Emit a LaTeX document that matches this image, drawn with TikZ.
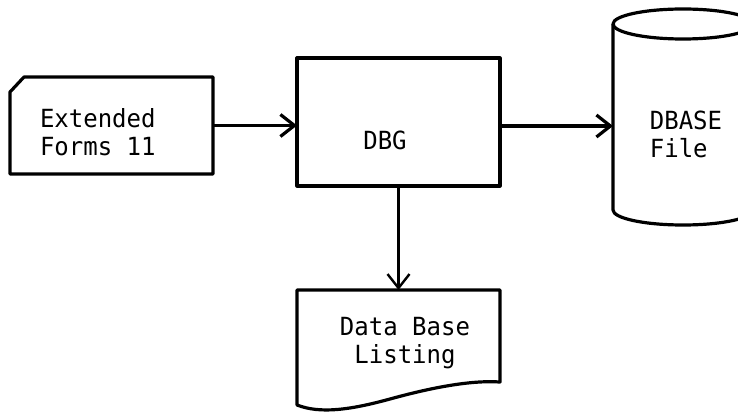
\documentclass[tikz,border=0pt]{standalone}
\usepackage{fontspec}
\newfontfamily\flowfont[FakeStretch=0.96]{DejaVu Sans Mono}
\usetikzlibrary{arrows.meta}
\begin{document}
\begin{tikzpicture}[x=1pt,y=1pt,line width=3.2pt,line join=round,
    box/.style={minimum width=203pt,minimum height=#1,inner sep=0pt,outer sep=0pt},
    boxtext/.style={font=\flowfont\fontsize{25}{28}\selectfont,inner sep=0pt,align=left},
    flow/.style={-{Straight Barb[length=14pt,width=22pt]}}]
  \useasboundingbox (0,0) rectangle (738,415);
  \clip (0,0) rectangle (738,415);
  \pgfmathsetmacro{\chamfer}{14}
  \pgfmathsetmacro{\rx}{70}
  \pgfmathsetmacro{\ry}{15}
  \node[box=97pt] (forms) at (111.5,289.5) {};
  \draw (forms.south west) -- ([yshift=-\ry pt]forms.north west) -- ([xshift=\chamfer pt]forms.north west) -- (forms.north east) -- (forms.south east) -- cycle;
  \node[box=128pt,draw] (dbg) at (398.5,293) {};
  \node[minimum width=140pt,minimum height=186pt,inner sep=0pt,outer sep=0pt] (dbase) at (683,298) {};
  \draw (dbase.north west) -- (dbase.south west) arc[start angle=180,end angle=360,x radius=\rx pt,y radius=\ry pt] -- (dbase.north east);
  \draw (dbase.north) ellipse [x radius=\rx pt,y radius=\ry pt];
  \node[box=115pt] (listing) at (398.5,67.5) {};
  \draw (listing.south west) -- (listing.north west) -- (listing.north east) -- ([yshift=23pt]listing.south east)
    .. controls (470,35) and (430,27) .. (390,16) .. controls (350,5) and (320,1) .. (listing.south west) -- cycle;
  \node[boxtext] (formstext) at (97.8,283) {Extended\\Forms 11};
  \node[boxtext,anchor=base] (dbgtext) at (385,265) {DBG};
  \node[boxtext] (dbasetext) at (686,281) {DBASE\\File};
  \node[boxtext,align=center] (listingtext) at (405,72) {Data Base\\Listing};
  \draw[flow] (forms.east) -- (forms.east -| dbg.west);
  \draw[flow] ([yshift=-4pt]dbg.east) -- ([yshift=-4pt]dbg.east -| dbase.west);
  \draw[flow,line width=2.4pt] (dbg.south) -- (listing.north);
\end{tikzpicture}
\end{document}
